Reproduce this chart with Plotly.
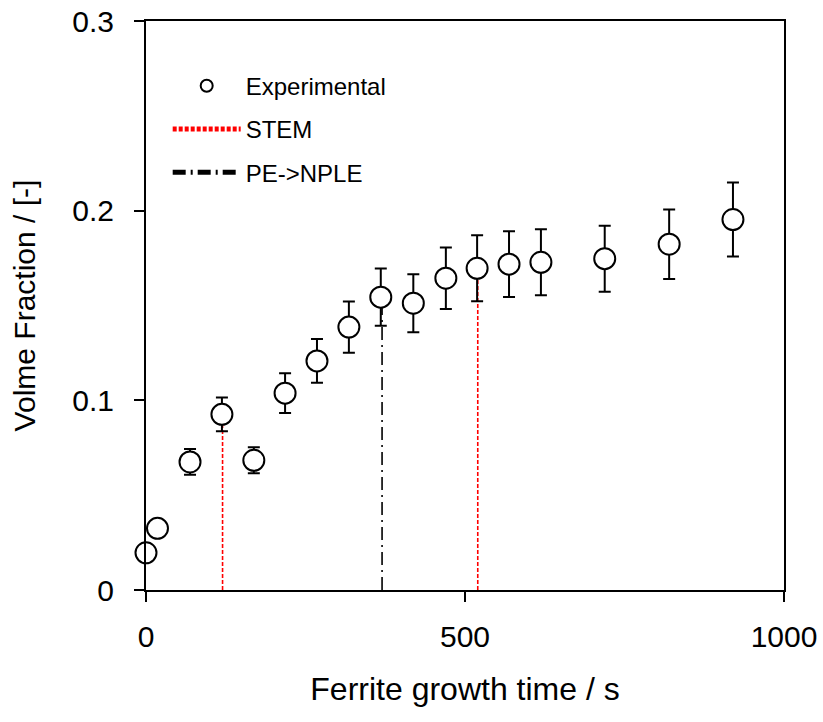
import plotly.graph_objects as go

time_s = [0, 18, 69, 119, 169, 218, 268, 318, 368, 419, 470, 519, 569, 619, 719, 820, 920]
vol_frac = [0.0196, 0.0325, 0.0675, 0.0926, 0.0684, 0.1038, 0.1208, 0.1386, 0.1544, 0.1512,
            0.1644, 0.1696, 0.1718, 0.1728, 0.1747, 0.1823, 0.1953]
vol_err = [0, 0, 0.0068, 0.0089, 0.0068, 0.0105, 0.0115, 0.0135, 0.0151, 0.0153,
           0.0162, 0.0174, 0.0173, 0.0174, 0.0174, 0.0183, 0.0195]

stem_x = [120, 520]
stem_y = [0.0926, 0.1696]
nple_x = [370]
nple_y = [0.1544]

x_ticks = [0, 500, 1000]
y_ticks = [0, 0.1, 0.2, 0.3]

FONT = "Liberation Sans, Arial, sans-serif"

fig = go.Figure()

# STEM lines
for i, (xv, yv) in enumerate(zip(stem_x, stem_y)):
    fig.add_trace(go.Scatter(
        x=[xv, xv], y=[0, yv], mode="lines", name="STEM", legendgroup="b",
        line=dict(color="#ff0000", width=1.6, dash="4px,2px"),
        showlegend=(i == 0), legendrank=2, hoverinfo="skip"))

# PE->NPLE line
for i, (xv, yv) in enumerate(zip(nple_x, nple_y)):
    fig.add_trace(go.Scatter(
        x=[xv, xv], y=[0, yv], mode="lines", name="PE->NPLE", legendgroup="c",
        line=dict(color="black", width=1.6, dash="13px,5px,2px,5px"),
        showlegend=(i == 0), legendrank=3, hoverinfo="skip"))

fig.add_trace(go.Scatter(
    x=time_s, y=vol_frac, mode="markers", name="Experimental", legendgroup="a",
    marker=dict(symbol="circle", size=21, color="white", line=dict(color="black", width=2)),
    error_y=dict(type="data", array=vol_err, visible=True, color="black", thickness=2, width=6),
    cliponaxis=False, legendrank=1))

fig.update_layout(
    width=823, height=722,
    margin=dict(l=146, r=39, t=21, b=132),
    paper_bgcolor="white", plot_bgcolor="white",
    font=dict(family=FONT, size=30, color="black"),
    showlegend=True,
    legend=dict(x=0.034, y=0.925, xanchor="left", yanchor="top",
                bgcolor="rgba(0,0,0,0)", font=dict(size=24, family=FONT),
                itemsizing="constant", tracegroupgap=9, itemwidth=68,
                traceorder="grouped"),
)

fig.update_xaxes(
    range=[0, 1000], tickvals=x_ticks, ticktext=[str(v) for v in x_ticks],
    showline=True, linecolor="black", linewidth=2, mirror=True,
    ticks="outside", ticklen=10, tickwidth=2, tickcolor="black",
    showgrid=False, zeroline=False, automargin=False,
    tickfont=dict(size=30, family=FONT),
    ticklabelstandoff=9,
    title=dict(text="Ferrite growth time / s", font=dict(size=32, family=FONT), standoff=26),
)
fig.update_yaxes(
    range=[0, 0.3], tickvals=y_ticks, ticktext=["0", "0.1", "0.2", "0.3"],
    showline=True, linecolor="black", linewidth=2, mirror=True,
    ticks="outside", ticklen=10, tickwidth=2, tickcolor="black",
    showgrid=False, zeroline=False, automargin=False,
    tickfont=dict(size=30, family=FONT),
    ticklabelstandoff=14,
    title=dict(text="Volme Fraction / [-]", font=dict(size=30, family=FONT), standoff=28),
)

# remove the browser's default 8px page margin so the figure fills the window
fig.write_html("out.html", config={"displayModeBar": False},
               post_script="document.body.style.margin='0';document.body.style.overflow='hidden';")
